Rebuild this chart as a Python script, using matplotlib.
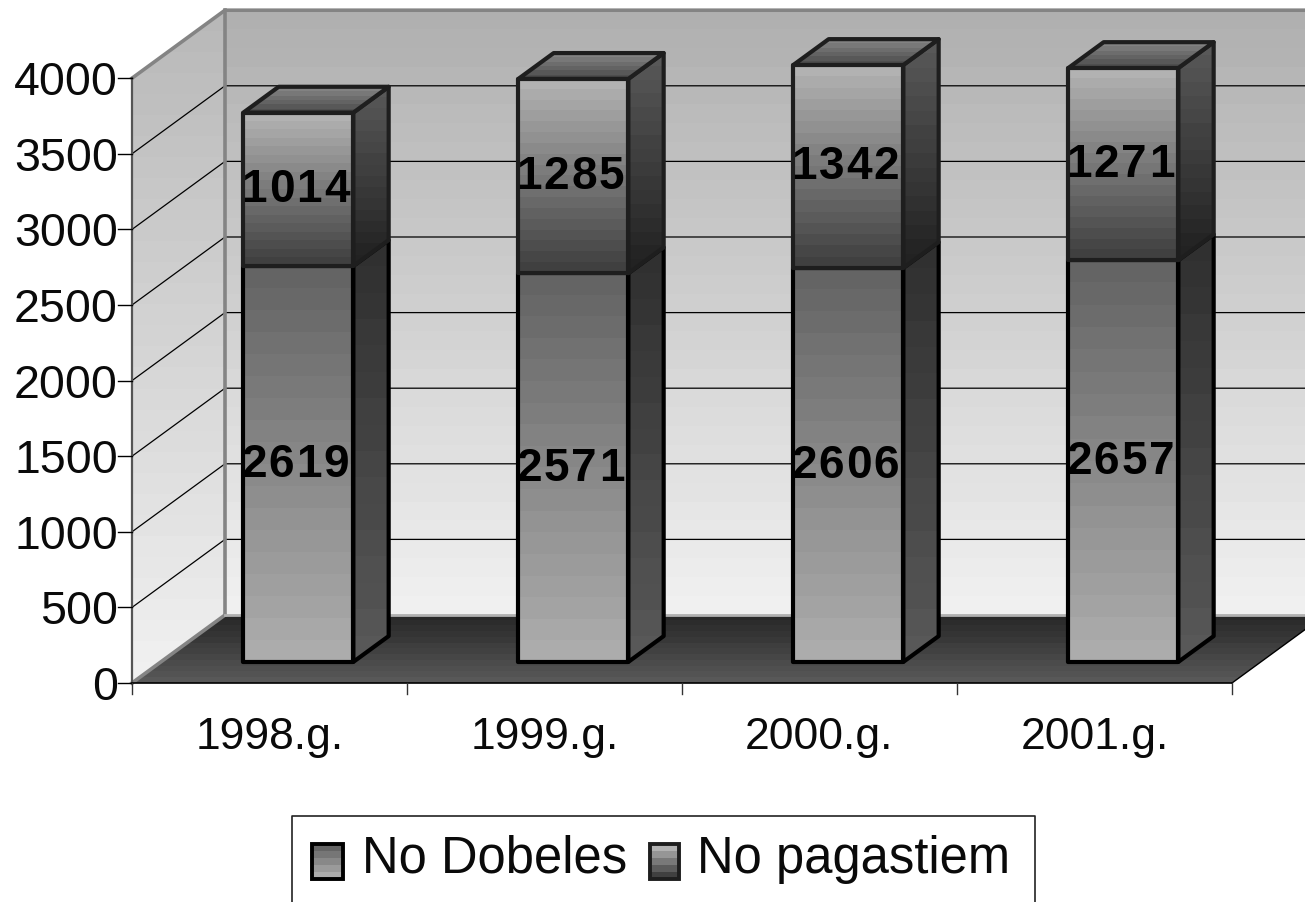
import numpy as np
import matplotlib
matplotlib.use("Agg")
import matplotlib.pyplot as plt
from matplotlib.patches import Polygon, Rectangle

plt.rcParams['font.family'] = ['Liberation Sans', 'DejaVu Sans']

years = ["1998.g.", "1999.g.", "2000.g.", "2001.g."]
no_dobeles = [2619, 2571, 2606, 2657]
no_pagastiem = [1014, 1285, 1342, 1271]
y_ticks = [0, 500, 1000, 1500, 2000, 2500, 3000, 3500, 4000]

# pixel layout of the 3d look
W, H = 1305, 902
PX_X = 275.0      # pixels per category
PX_Y = 0.1512     # pixels per value
X0, Y0 = 132, 683
DEPTH_X = 93 / PX_X
DEPTH_Y = 68 / PX_Y
BAR_W = 0.40
D_FRONT, D_BACK = 0.31, 0.69
WALL_TOP = 4000

fig = plt.figure(figsize=(W / 100, H / 100), dpi=100)
ax = fig.add_axes([0, 0, 1, 1])
ax.axis("off")


def pr(x, y, d=0.0):
    return (x + d * DEPTH_X, y + d * DEPTH_Y)


def shade(pts, top, bottom, levels=16, edge=None, lw=0, z=2):
    pts = np.array(pts)
    vals = np.linspace(top, bottom, levels).reshape(-1, 1)
    ext = [pts[:, 0].min(), pts[:, 0].max(), pts[:, 1].min(), pts[:, 1].max()]
    im = ax.imshow(vals, extent=ext, cmap="gray", vmin=0, vmax=255, aspect="auto",
                   interpolation="nearest", origin="upper", zorder=z)
    im.set_clip_path(Polygon(pts, closed=True, transform=ax.transData))
    if edge is not None:
        ax.add_patch(Polygon(pts, closed=True, fill=False, edgecolor=edge, linewidth=lw,
                             joinstyle="round", zorder=z))


n = len(years)
x_end = n

# walls and floor
shade([pr(0, 0), pr(0, 0, 1), pr(0, WALL_TOP, 1), pr(0, WALL_TOP)], 184, 240, 32)
shade([pr(0, 0, 1), pr(x_end, 0, 1), pr(x_end, WALL_TOP, 1), pr(0, WALL_TOP, 1)], 176, 240, 32)
shade([pr(0, 0), pr(x_end, 0), pr(x_end, 0, 1), pr(0, 0, 1)], 40, 88, 12)

# gridlines
for t in y_ticks[1:-1]:
    a, b, c = pr(0, t), pr(0, t, 1), pr(x_end, t, 1)
    ax.plot([a[0], b[0], c[0]], [a[1], b[1], c[1]], color="black", lw=0.9, zorder=2.1)

wall_c = "#848484"
a, b, c = pr(0, WALL_TOP), pr(0, WALL_TOP, 1), pr(x_end, WALL_TOP, 1)
ax.plot([a[0], b[0], c[0]], [a[1], b[1], c[1]], color=wall_c, lw=2.6, zorder=2.2)
a, b = pr(0, 0, 1), pr(0, WALL_TOP, 1)
ax.plot([a[0], b[0]], [a[1], b[1]], color=wall_c, lw=2.6, zorder=2.2)
a, b = pr(0, 0), pr(0, 0, 1)
ax.plot([a[0], b[0]], [a[1], b[1]], color=wall_c, lw=2.6, zorder=2.2)
a, b = pr(0, 0, 1), pr(x_end, 0, 1)
ax.plot([a[0], b[0]], [a[1], b[1]], color="#b0b0b0", lw=2.0, zorder=2.2)

# axes lines and ticks
tx = 10 / PX_X
ty = 11 / PX_Y
ax.plot([0, 0], [0, WALL_TOP], color="#555555", lw=1.6, zorder=2.3)
ax.plot([0, x_end], [0, 0], color="black", lw=1.2, zorder=2.3)
a = pr(x_end, 0)
b = pr(x_end, 0, 1)
ax.plot([a[0], b[0]], [a[1], b[1]], color="black", lw=1.0, zorder=2.3)
for t in y_ticks:
    ax.plot([-tx * 1.4, 0], [t, t], color="black", lw=1.0, zorder=2.3)
    ax.text(-14 / PX_X, t, str(t), ha="right", va="center_baseline", fontsize=33.5, color="#0a0a0a", zorder=5)
for i in range(n + 1):
    ax.plot([i, i], [0, -ty], color="#333333", lw=1.0, zorder=2.3)
for i, lab in enumerate(years):
    ax.text(i + 0.5, -55 / PX_Y, lab, ha="center", va="center", fontsize=32, color="#0a0a0a", zorder=5)


def box(i, low, high, front, side, top_face=None, edge="black"):
    xl = i + 0.5 - BAR_W / 2
    xr = i + 0.5 + BAR_W / 2
    side_pts = [pr(xr, low, D_FRONT), pr(xr, low, D_BACK), pr(xr, high, D_BACK), pr(xr, high, D_FRONT)]
    shade(side_pts, side[0], side[1], 16, edge, 3.0, 3)
    if top_face is not None:
        top_pts = [pr(xl, high, D_FRONT), pr(xr, high, D_FRONT), pr(xr, high, D_BACK), pr(xl, high, D_BACK)]
        shade(top_pts, top_face[0], top_face[1], 6, edge, 3.0, 3)
    front_pts = [pr(xl, low, D_FRONT), pr(xr, low, D_FRONT), pr(xr, high, D_FRONT), pr(xl, high, D_FRONT)]
    shade(front_pts, front[0], front[1], 18, edge, 3.0, 3)


def value_label(cx, cy, value):
    # the digits sit wider apart than the font sets them
    step = 27.5 / PX_X
    digits = str(value)
    for k, ch in enumerate(digits):
        ax.text(cx + (k - (len(digits) - 1) / 2) * step, cy, ch, ha="center", va="center",
                fontsize=33, fontweight="bold", color="black", zorder=6)


for i in range(n):
    total = no_dobeles[i] + no_pagastiem[i]
    box(i, 0, no_dobeles[i], (100, 172), (48, 88))
    box(i, no_dobeles[i], total, (178, 64), (88, 34), (130, 78), edge="#1e1e1e")
    cx, cy = pr(i + 0.5, no_dobeles[i] / 2, D_FRONT)
    value_label(cx - 3 / PX_X, cy - 1 / PX_Y, no_dobeles[i])
    cx, cy = pr(i + 0.5, no_dobeles[i] + no_pagastiem[i] / 2, D_FRONT)
    value_label(cx - 3 / PX_X, cy - 1 / PX_Y, no_pagastiem[i])

ax.set_xlim(-X0 / PX_X, (W - X0) / PX_X)
ax.set_ylim((Y0 - H) / PX_Y, Y0 / PX_Y)

# legend, laid out in pixels
leg = fig.add_axes([0, 0, 1, 1])
leg.axis("off")
leg.patch.set_alpha(0)
leg.set_xlim(0, W)
leg.set_ylim(H, 0)
leg.plot([292, 292, 1035, 1035], [H, 816, 816, H], color="#222222", lw=1.2)


def swatch(x, y, w, h, top, bottom, edge):
    vals = np.linspace(top, bottom, 5).reshape(-1, 1)
    leg.imshow(vals, extent=[x, x + w, y + h, y], cmap="gray", vmin=0, vmax=255,
               aspect="auto", interpolation="nearest", origin="upper")
    leg.add_patch(Rectangle((x, y), w, h, fill=False, edgecolor=edge, linewidth=2.8))


swatch(312, 844, 31, 35, 100, 172, "black")
swatch(650, 844, 29, 35, 178, 64, "#1e1e1e")
leg.text(362, 859, "No Dobeles", ha="left", va="center", fontsize=36.5, color="#0a0a0a")
leg.text(697, 859, "No pagastiem", ha="left", va="center", fontsize=36.5, color="#0a0a0a")
leg.set_xlim(0, W)
leg.set_ylim(H, 0)

fig.savefig("out.png", dpi=100)
